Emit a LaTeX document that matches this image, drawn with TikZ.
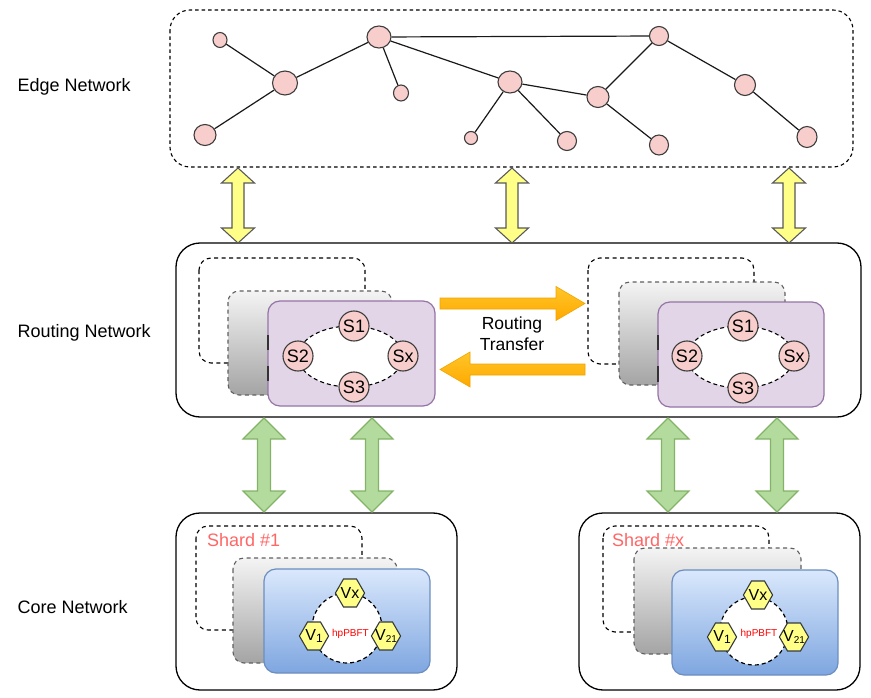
\documentclass[tikz,border=0pt]{standalone}
\usepackage{fontspec}
\setmainfont{Liberation Sans}
\usetikzlibrary{shapes.geometric,shapes.symbols}

\definecolor{pinkfill}{HTML}{F8CECC}
\definecolor{nodeline}{HTML}{3C3C3C}
\definecolor{yellowfill}{HTML}{FFFF88}
\definecolor{hexline}{HTML}{36393D}
\definecolor{purplefill}{HTML}{E1D5E7}
\definecolor{purpleline}{HTML}{9673A6}
\definecolor{bluetop}{HTML}{DAE8FC}
\definecolor{bluebottom}{HTML}{7EA6E0}
\definecolor{blueline}{HTML}{6C8EBF}
\definecolor{greenfill}{HTML}{B3DB9E}
\definecolor{greenline}{HTML}{82B366}
\definecolor{orangetop}{HTML}{FFC629}
\definecolor{orangebottom}{HTML}{FFA800}
\definecolor{orangeline}{HTML}{F0A400}
\definecolor{shardred}{HTML}{FF6666}
\definecolor{graytop}{HTML}{F4F4F4}
\definecolor{graybottom}{HTML}{A4A4A4}

% vertical block arrow with heads at both ends:
% x, top y, bottom y, shaft half-width, head half-width, head length, style
\newcommand\vdouble[7]{%
  \draw[#7] (#1,#2) -- (#1+#5,#2+#6) -- (#1+#4,#2+#6) -- (#1+#4,#3-#6)
    -- (#1+#5,#3-#6) -- (#1,#3) -- (#1-#5,#3-#6) -- (#1-#4,#3-#6)
    -- (#1-#4,#2+#6) -- (#1-#5,#2+#6) -- cycle;}

% validator index, set low and small
\newcommand\vidx[2]{\raisebox{-2.5pt}{\fontsize{#1}{#1}\selectfont #2}}
% fixed-width label so every hexagon keeps the same size
\newcommand\hexlabel[1]{\makebox[13pt][c]{#1}}

\tikzset{
  layerlabel/.style={anchor=west, font=\fontsize{18}{20}\selectfont},
  pinknode/.style={ellipse, draw=nodeline, fill=pinkfill, line width=1.1pt, inner sep=0pt},
  link/.style={line width=1.2pt, black!90},
  tierbox/.style={draw=black, line width=1.3pt, rounded corners=24pt, fill=white},
  edgebox/.style={draw=black, line width=1.1pt, dash pattern=on 3.5pt off 3pt, rounded corners=20pt},
  backframe/.style={draw=black, line width=1.1pt, dash pattern=on 4pt off 3.5pt, rounded corners=12pt, fill=white},
  grayframe/.style={draw=gray!75!black, line width=1.1pt, dash pattern=on 4pt off 3.5pt, rounded corners=11pt, top color=graytop, bottom color=graybottom},
  purpleframe/.style={draw=purpleline, line width=1.2pt, fill=purplefill, rounded corners=12pt},
  blueframe/.style={draw=blueline, line width=1.2pt, top color=bluetop, bottom color=bluebottom, rounded corners=12pt},
  scircle/.style={circle, draw=nodeline, fill=pinkfill, line width=1.1pt, minimum size=30pt, inner sep=0pt, font=\fontsize{18}{18}\selectfont},
  sring/.style={ellipse, draw=black, fill=white, line width=1.1pt, dash pattern=on 4pt off 3pt, inner sep=0pt},
  vring/.style={circle, draw=black, fill=white, line width=1.2pt, dash pattern=on 4pt off 3pt, inner sep=0pt},
  hexnode/.style={signal, signal to=east and west, signal pointer angle=120,
    minimum height=28pt, inner sep=0pt, draw=hexline, fill=yellowfill,
    line width=1.1pt, font=\fontsize{16}{16}\selectfont},
  consensus/.style={text=red, font=\fontsize{10}{10}\selectfont, inner sep=0pt},
  shardlabel/.style={anchor=west, text=shardred, font=\fontsize{18}{20}\selectfont, inner sep=0pt},
  yellowarrow/.style={draw=gray!70!black, line width=1.1pt, fill=yellowfill},
  greenarrow/.style={draw=greenline, line width=1.1pt, fill=greenfill},
  orangearrow/.style={draw=orangeline, line width=0.6pt, top color=orangetop, bottom color=orangebottom},
  leftmark/.style={line width=1.6pt, black!80},
}

\begin{document}
\begin{tikzpicture}[x=1pt, y=-1pt]
\useasboundingbox (0,0) rectangle (871,698);

% ---------- layer names ----------
\node[layerlabel] (lbledge) at (14,87) {Edge Network};
\node[layerlabel] (lblrouting) at (14,333) {Routing Network};
\node[layerlabel] (lblcore) at (14,607) {Core Network};

% ---------- edge network ----------
\draw[edgebox] (170,10) rectangle (853,167);

\node[pinknode, minimum width=14pt, minimum height=15pt] (e1) at (220,40) {};
\node[pinknode, minimum width=25pt, minimum height=24pt] (e2) at (285,83) {};
\node[pinknode, minimum width=22pt, minimum height=21pt] (e3) at (205,135) {};
\node[pinknode, minimum width=24pt, minimum height=22pt] (e4) at (379,37) {};
\node[pinknode, minimum width=15pt, minimum height=16pt] (e5) at (401,93) {};
\node[pinknode, minimum width=24pt, minimum height=22pt] (e6) at (510,82) {};
\node[pinknode, minimum width=13pt, minimum height=13pt] (e7) at (471,138) {};
\node[pinknode, minimum width=19pt, minimum height=19pt] (e8) at (567,141) {};
\node[pinknode, minimum width=22pt, minimum height=21pt] (e9) at (598,97) {};
\node[pinknode, minimum width=19pt, minimum height=19pt] (e10) at (659,36) {};
\node[pinknode, minimum width=19pt, minimum height=20pt] (e11) at (659,145) {};
\node[pinknode, minimum width=21pt, minimum height=21pt] (e12) at (745,85) {};
\node[pinknode, minimum width=20pt, minimum height=21pt] (e13) at (807,137) {};

\draw[link] (e1) -- (e2);
\draw[link] (e2) -- (e3);
\draw[link] (e2) -- (e4);
\draw[link] (e4) -- (e5);
\draw[link] (e4) -- (e6);
\draw[link] (e4) -- (e10);
\draw[link] (e6) -- (e7);
\draw[link] (e6) -- (e8);
\draw[link] (e6) -- (e9);
\draw[link] (e9) -- (e10);
\draw[link] (e9) -- (e11);
\draw[link] (e10) -- (e12);
\draw[link] (e12) -- (e13);

% ---------- routing network ----------
\draw[tierbox] (176,243) rectangle (861,417);

% left routing group
\draw[backframe] (199,258) rectangle (365,363);
\draw[grayframe] (228,291) rectangle (392,395);
\draw[purpleframe] (268,301) rectangle (435,406);
\draw[leftmark] (268,335) -- (268,350) (268,366) -- (268,381);
\node[sring, minimum width=105pt, minimum height=61pt] (ringL) at (350.5,356.5) {};
\node[scircle] (s1L) at (354,326) {S1};
\node[scircle] (s2L) at (298,356) {S2};
\node[scircle] (sxL) at (403,356) {Sx};
\node[scircle] (s3L) at (354,387) {S3};

% right routing group
\draw[backframe] (588,258) rectangle (754,364);
\draw[grayframe] (619,282) rectangle (785,385);
\draw[purpleframe] (658,302) rectangle (824,407);
\draw[leftmark] (658,335) -- (658,350) (658,366) -- (658,382);
\node[sring, minimum width=107pt, minimum height=62pt] (ringR) at (740.5,357) {};
\node[scircle] (s1R) at (743,326) {S1};
\node[scircle] (s2R) at (687,356) {S2};
\node[scircle] (sxR) at (794,356) {Sx};
\node[scircle] (s3R) at (743,388) {S3};

% routing transfer arrows
\draw[orangearrow] (440,298) -- (556,298) -- (556,286.5) -- (585,303.5)
  -- (556,320.5) -- (556,309) -- (440,309) -- cycle;
\draw[orangearrow] (585,364) -- (470,364) -- (470,352) -- (440,369.5)
  -- (470,387) -- (470,375) -- (585,375) -- cycle;
\node[align=center, font=\fontsize{17.5}{21}\selectfont] (transfer) at (512,334) {Routing\\Transfer};

% ---------- core network ----------
\draw[tierbox] (176,513) rectangle (457,690);
\draw[tierbox] (579,513) rectangle (860,690);

% shard #1
\draw[backframe] (196,526) rectangle (362,630);
\node[shardlabel] (shard1) at (207,540) {Shard \#1};
\draw[grayframe] (233,558) rectangle (397,663);
\draw[blueframe] (264,569) rectangle (430,673);
\node[vring, minimum size=70pt] (ring1) at (347,628) {};
\node[consensus] (pbft1) at (350.5,634) {hpPBFT};
\node[hexnode] (vx1) at (350,593) {\hexlabel{Vx}};
\node[hexnode] (v11) at (314,636) {\hexlabel{V\vidx{12}{1}}};
\node[hexnode] (v211) at (386,636) {\hexlabel{V\vidx{10}{21}}};

% shard #x
\draw[backframe] (603,526) rectangle (769,632);
\node[shardlabel] (shardx) at (612,540) {Shard \#x};
\draw[grayframe] (634,548) rectangle (801,654);
\draw[blueframe] (672,570) rectangle (838,675);
\node[vring, minimum size=68pt] (ringx) at (754,631) {};
\node[consensus] (pbftx) at (759,634) {hpPBFT};
\node[hexnode] (vxx) at (758,595) {\hexlabel{Vx}};
\node[hexnode] (v1x) at (722,637) {\hexlabel{V\vidx{12}{1}}};
\node[hexnode] (v21x) at (794,637) {\hexlabel{V\vidx{10}{21}}};

% ---------- links between tiers ----------
\vdouble{238}{168}{243}{6}{16.5}{15}{yellowarrow}
\vdouble{512}{168}{243}{6}{16.5}{15}{yellowarrow}
\vdouble{789}{168}{243}{6}{16.5}{15}{yellowarrow}

\vdouble{264}{418}{512}{6.5}{21}{21}{greenarrow}
\vdouble{372}{418}{512}{6.5}{21}{21}{greenarrow}
\vdouble{668}{418}{512}{6.5}{21}{21}{greenarrow}
\vdouble{777}{418}{512}{6.5}{21}{21}{greenarrow}

\end{tikzpicture}
\end{document}
